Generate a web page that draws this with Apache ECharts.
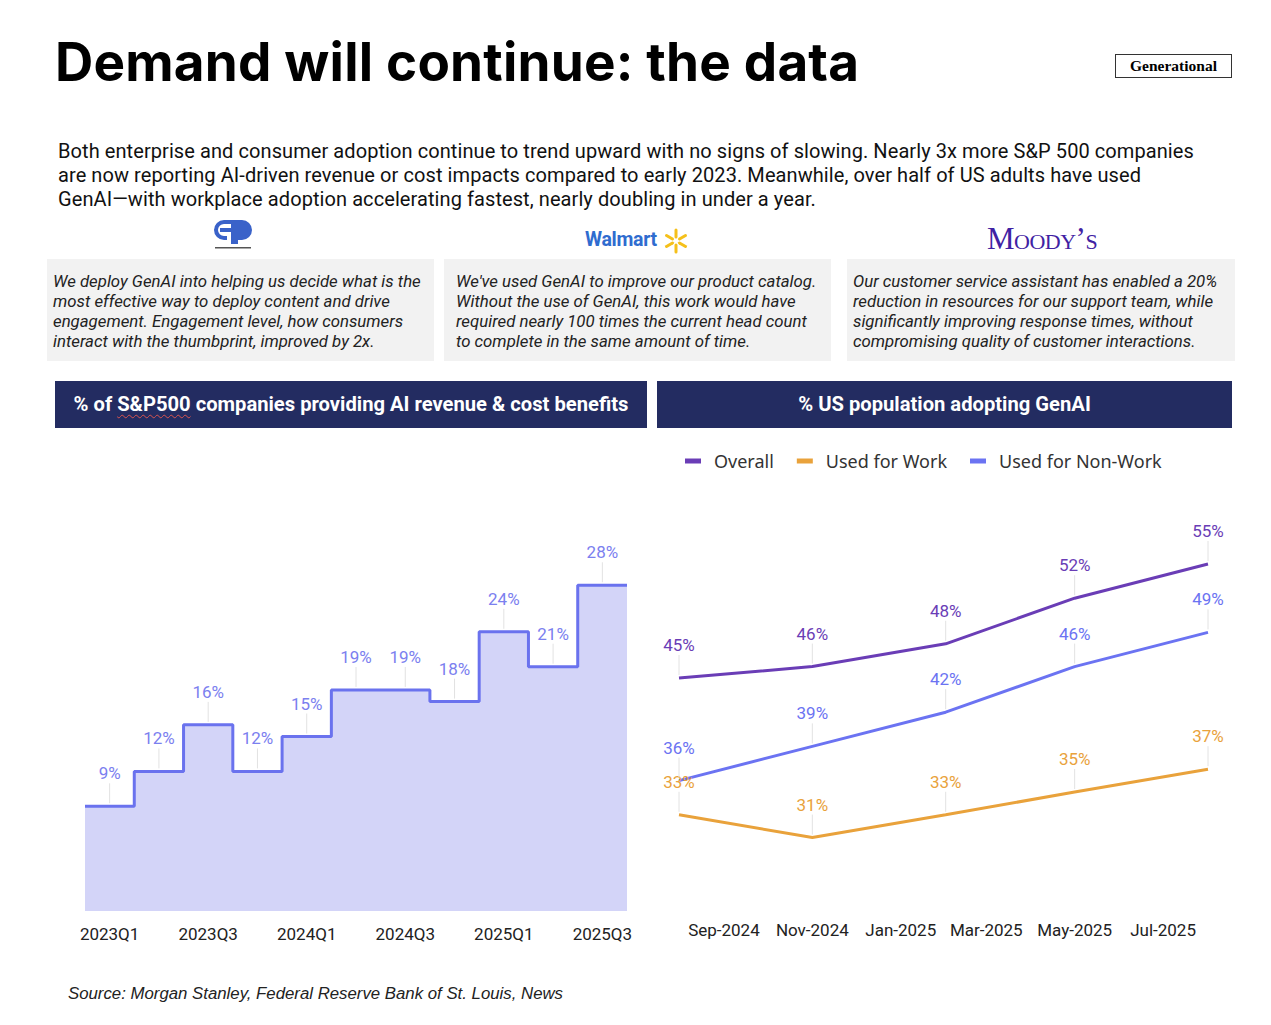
<!DOCTYPE html>
<html>
<head>
<meta charset="utf-8">
<title>Demand will continue: the data</title>
<script src="https://cdn.jsdelivr.net/npm/echarts@6/dist/echarts.min.js"></script>
<style>
  body { margin: 0; width: 1271px; height: 1025px; background: #fff; position: relative; overflow: hidden; font-family: Roboto, sans-serif; color: #111; }
  #chart { position: absolute; left: 0; top: 0; width: 1271px; height: 1025px; }
  .abs { position: absolute; }
  #title { left: 55px; top: 30px; font-family: Inter, sans-serif; font-weight: 700; font-size: 53px; letter-spacing: 0.2px; color: #000; white-space: nowrap; }
  #tag { left: 1115px; top: 54px; width: 115px; height: 22px; border: 1.5px solid #333; font-family: "Liberation Serif", serif; font-weight: bold; font-size: 15.5px; line-height: 22px; text-align: center; color: #000; }
  #intro { left: 58px; top: 139px; font-size: 20px; line-height: 24px; letter-spacing: 0.08px; color: #111; white-space: nowrap; }
  .quote { background: #f2f2f2; top: 259px; height: 102px; box-sizing: border-box; padding-top: 12px; font-style: italic; font-size: 16.8px; line-height: 20px; color: #222; white-space: nowrap; }
  .bar { top: 381px; height: 47px; background: #232c61; color: #fff; font-weight: bold; font-size: 20.2px; line-height: 47px; text-align: center; white-space: nowrap; }
  .spell { text-decoration: underline wavy #d9534f; text-decoration-thickness: 1px; text-underline-offset: 3px; }
  #walmart { left: 585px; top: 228px; font-family: Roboto, sans-serif; font-weight: bold; font-size: 19.5px; color: #2f6ccf; letter-spacing: -0.3px; }
  #moodys { left: 987px; top: 221px; font-family: "Liberation Serif", serif; font-size: 31px; font-variant: small-caps; color: #3f22a3; letter-spacing: -0.5px; }
  #source { left: 68px; top: 984px; font-family: "Liberation Sans", sans-serif; font-style: italic; font-size: 16.8px; color: #222; }
</style>
</head>
<body>
<div id="chart"></div>

<div id="title" class="abs">Demand will continue: the data</div>
<div id="tag" class="abs">Generational</div>

<div id="intro" class="abs">Both enterprise and consumer adoption continue to trend upward with no signs of slowing. Nearly 3x more S&amp;P 500 companies<br>are now reporting AI-driven revenue or cost impacts compared to early 2023. Meanwhile, over half of US adults have used<br>GenAI—with workplace adoption accelerating fastest, nearly doubling in under a year.</div>

<!-- logos -->
<svg class="abs" style="left:212px;top:219px" width="42" height="32" viewBox="0 0 42 32">
  <path d="M12 1 H30 A10 10 0 0 1 30 21 H26 V25 H19 V13 H8 V9 H19 V5 H12 A6 6 0 0 0 12 17 H15 V21 H12 A10 10 0 0 1 12 1 Z" fill="#3a62c9"/>
  <path d="M26 5 H30 A6 6 0 0 1 30 17 H26 Z" fill="#3a62c9"/>
  <rect x="3" y="28" width="36" height="1.5" fill="#555"/>
</svg>
<div id="walmart" class="abs">Walmart</div>
<svg class="abs" style="left:663px;top:228px" width="26" height="26" viewBox="-13 -13 26 26">
  <g stroke="#f5c01a" stroke-width="3" stroke-linecap="round">
    <line x1="0" y1="-4" x2="0" y2="-11"/>
    <line x1="0" y1="4" x2="0" y2="11"/>
    <line x1="3.5" y1="-2" x2="9.5" y2="-5.5"/>
    <line x1="3.5" y1="2" x2="9.5" y2="5.5"/>
    <line x1="-3.5" y1="-2" x2="-9.5" y2="-5.5"/>
    <line x1="-3.5" y1="2" x2="-9.5" y2="5.5"/>
  </g>
</svg>
<div id="moodys" class="abs">Moody’s</div>

<div class="abs quote" style="left:47px;width:387px;padding-left:6px">We deploy GenAI into helping us decide what is the<br>most effective way to deploy content and drive<br>engagement. Engagement level, how consumers<br>interact with the thumbprint, improved by 2x.</div>
<div class="abs quote" style="left:444px;width:387px;padding-left:12px">We've used GenAI to improve our product catalog.<br>Without the use of GenAI, this work would have<br>required nearly 100 times the current head count<br>to complete in the same amount of time.</div>
<div class="abs quote" style="left:847px;width:388px;padding-left:6px">Our customer service assistant has enabled a 20%<br>reduction in resources for our support team, while<br>significantly improving response times, without<br>compromising quality of customer interactions.</div>

<div class="abs bar" style="left:55px;width:592px">% of <span class="spell">S&amp;P500</span> companies providing AI revenue &amp; cost benefits</div>
<div class="abs bar" style="left:657px;width:575px">% US population adopting GenAI</div>

<div id="source" class="abs">Source: Morgan Stanley, Federal Reserve Bank of St. Louis, News</div>

<script>
// 左图：标普 500 公司占比（季度）
const quarters = ['2023Q1', '2023Q2', '2023Q3', '2023Q4', '2024Q1', '2024Q2', '2024Q3', '2024Q4', '2025Q1', '2025Q2', '2025Q3'];
const spShare = [9, 12, 16, 12, 15, 19, 19, 18, 24, 21, 28];

// 右图：美国人口 GenAI 使用率
const surveyDates = ['2024-08-01', '2024-11-01', '2025-02-01', '2025-05-01', '2025-08-01'];
const overall = [45, 46, 48, 52, 55];
const usedForWork = [33, 31, 33, 35, 37];
const usedForNonWork = [36, 39, 42, 46, 49];

// 右图 x 轴刻度
const monthTicks = ['2024-09-01', '2024-11-01', '2025-01-01', '2025-03-01', '2025-05-01', '2025-07-01'];
const monthNames = ['Jan', 'Feb', 'Mar', 'Apr', 'May', 'Jun', 'Jul', 'Aug', 'Sep', 'Oct', 'Nov', 'Dec'];

const colors = {
  step: '#6a72ee',
  stepFill: '#d3d4f8',
  stepLabel: '#7b80ef',
  overall: '#6a3db6',
  work: '#e9a23b',
  nonWork: '#6b73f2',
};

function dayStamp(s) {
  const [y, m, d] = s.split('-').map(Number);
  return new Date(y, m - 1, d).getTime();
}

// 数据点上方的引线 + 百分比标签
function leaderLabel(color) {
  return function (params, api) {
    const p = api.coord([api.value(0), api.value(1)]);
    return {
      type: 'group',
      children: [{
        type: 'line',
        shape: { x1: p[0], y1: p[1] - 3, x2: p[0], y2: p[1] - 23 },
        style: { stroke: '#e2e2e2', lineWidth: 1 },
      }, {
        type: 'text',
        x: p[0],
        y: p[1] - 33,
        style: {
          text: api.value(1) + '%',
          fill: color,
          font: '17px Roboto',
          align: 'center',
          verticalAlign: 'middle',
        },
      }],
    };
  };
}

window.onload = function () {
  const chart = echarts.init(document.getElementById('chart'), null, { renderer: 'svg' });

  const lastShare = spShare[spShare.length - 1];
  const stepData = spShare.map((v, i) => [i, v]).concat([[spShare.length, lastShare]]);
  const times = surveyDates.map(dayStamp);
  const pairs = vals => vals.map((v, i) => [times[i], v]);

  const option = {
    animation: false,
    legend: {
      data: ['Overall', 'Used for Work', 'Used for Non-Work'],
      left: 680,
      top: 447,
      icon: 'rect',
      itemWidth: 16,
      itemHeight: 5,
      itemGap: 23,
      textStyle: { fontFamily: 'Noto Sans', fontSize: 18, color: '#333', padding: [0, 0, 0, 8] },
    },
    grid: [
      { left: 85, top: 562, width: 542, height: 349 },
      { left: 679, top: 507, width: 529, height: 399 },
    ],
    xAxis: [{
      type: 'value',
      gridIndex: 0,
      position: 'top',
      min: 0,
      max: quarters.length,
      show: false,
    }, {
      type: 'category',
      gridIndex: 0,
      position: 'bottom',
      data: quarters,
      boundaryGap: true,
      axisLine: { show: false },
      axisTick: { show: false },
      axisLabel: { interval: 1, margin: 14, fontFamily: 'Roboto', fontSize: 17, color: '#222' },
    }, {
      // 时间戳作为数值轴，刻度取每两个月的 1 号
      type: 'value',
      gridIndex: 1,
      position: 'bottom',
      min: dayStamp('2024-08-01'),
      max: dayStamp('2025-08-01'),
      axisLine: { show: false },
      axisTick: { show: false },
      splitLine: { show: false },
      axisLabel: {
        customValues: monthTicks.map(dayStamp),
        margin: 15,
        fontFamily: 'Roboto',
        fontSize: 17,
        color: '#222',
        formatter: val => {
          const d = new Date(val);
          return monthNames[d.getMonth()] + '-' + d.getFullYear();
        },
      },
    }],
    yAxis: [
      { type: 'value', gridIndex: 0, min: 0, max: 30, show: false },
      { type: 'value', gridIndex: 1, min: 25, max: 60, show: false },
    ],
    series: [{
      name: 'S&P500',
      type: 'line',
      xAxisIndex: 0,
      yAxisIndex: 0,
      step: 'end',
      symbol: 'none',
      data: stepData,
      lineStyle: { color: colors.step, width: 3 },
      areaStyle: { color: colors.stepFill, opacity: 1 },
    }, {
      type: 'custom',
      xAxisIndex: 1,
      yAxisIndex: 0,
      data: quarters.map((q, i) => [q, spShare[i]]),
      renderItem: leaderLabel(colors.stepLabel),
      z: 5,
    }, {
      name: 'Overall',
      type: 'line',
      xAxisIndex: 2,
      yAxisIndex: 1,
      symbol: 'none',
      data: pairs(overall),
      itemStyle: { color: colors.overall },
      lineStyle: { color: colors.overall, width: 3 },
    }, {
      name: 'Used for Work',
      type: 'line',
      xAxisIndex: 2,
      yAxisIndex: 1,
      symbol: 'none',
      data: pairs(usedForWork),
      itemStyle: { color: colors.work },
      lineStyle: { color: colors.work, width: 3 },
    }, {
      name: 'Used for Non-Work',
      type: 'line',
      xAxisIndex: 2,
      yAxisIndex: 1,
      symbol: 'none',
      data: pairs(usedForNonWork),
      itemStyle: { color: colors.nonWork },
      lineStyle: { color: colors.nonWork, width: 3 },
    }, {
      type: 'custom',
      xAxisIndex: 2,
      yAxisIndex: 1,
      data: pairs(overall),
      renderItem: leaderLabel(colors.overall),
      z: 5,
    }, {
      type: 'custom',
      xAxisIndex: 2,
      yAxisIndex: 1,
      data: pairs(usedForWork),
      renderItem: leaderLabel(colors.work),
      z: 5,
    }, {
      type: 'custom',
      xAxisIndex: 2,
      yAxisIndex: 1,
      data: pairs(usedForNonWork),
      renderItem: leaderLabel(colors.nonWork),
      z: 5,
    }],
  };

  chart.setOption(option);
};
</script>
</body>
</html>
